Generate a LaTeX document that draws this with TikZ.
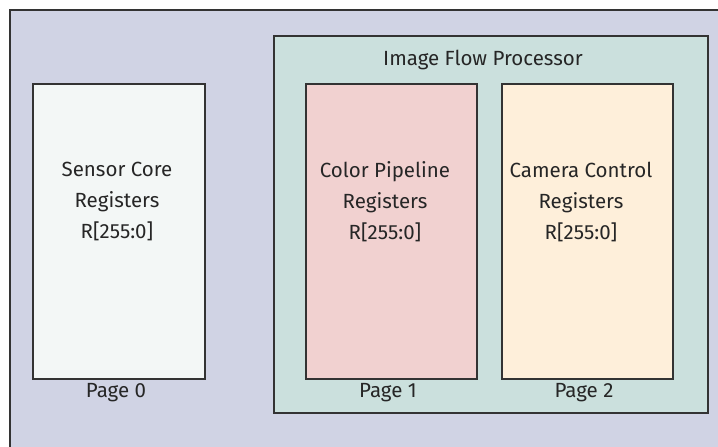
\documentclass[tikz,border=0pt]{standalone}
\usepackage{fontspec}
\setmainfont{Fira Sans}
\definecolor{outerbg}{HTML}{D0D3E4}
\definecolor{ifpbg}{HTML}{CBE0DD}
\definecolor{sensorbg}{HTML}{F3F7F6}
\definecolor{colorbg}{HTML}{F1D1D0}
\definecolor{camerabg}{HTML}{FEEFDA}
\definecolor{edge}{HTML}{333333}
\definecolor{txt}{HTML}{262626}
\begin{document}
\begin{tikzpicture}[x=1pt,y=-1pt,
  regbox/.style={draw=edge,line width=1.3pt,rectangle,inner sep=0pt},
  lbl/.style={text=txt,font=\fontsize{20.5}{31}\selectfont,align=center,inner sep=0pt}]
\useasboundingbox (0,0) rectangle (718,447);
\fill[white] (0,0) rectangle (718,447);
\fill[outerbg] (10,10) rectangle (718,447);
\draw[edge,line width=2.2pt] (10,447) -- (10,10) -- (718,10);
% boxes
\draw[regbox,fill=ifpbg] (274,36) rectangle (708,413);
\node[regbox,fill=sensorbg,minimum width=172pt,minimum height=295pt] (sensor) at (119,231.5) {};
\node[regbox,fill=colorbg,minimum width=171pt,minimum height=295pt] (color) at (391.5,231.5) {};
\node[regbox,fill=camerabg,minimum width=171pt,minimum height=295pt] (camera) at (587.5,231.5) {};
% texts
\node[lbl] (ifptitle) at (483,60) {Image Flow Processor};
\node[lbl] (sensortxt) at (117,202) {Sensor Core\\Registers\\R[255:0]};
\node[lbl] (colortxt) at (385,202) {Color Pipeline\\Registers\\R[255:0]};
\node[lbl] (cameratxt) at (581,202) {Camera Control\\Registers\\R[255:0]};
\node[lbl] (p0) at (116,393) {Page 0};
\node[lbl] (p1) at (388,393) {Page 1};
\node[lbl] (p2) at (584,393) {Page 2};
\end{tikzpicture}
\end{document}
